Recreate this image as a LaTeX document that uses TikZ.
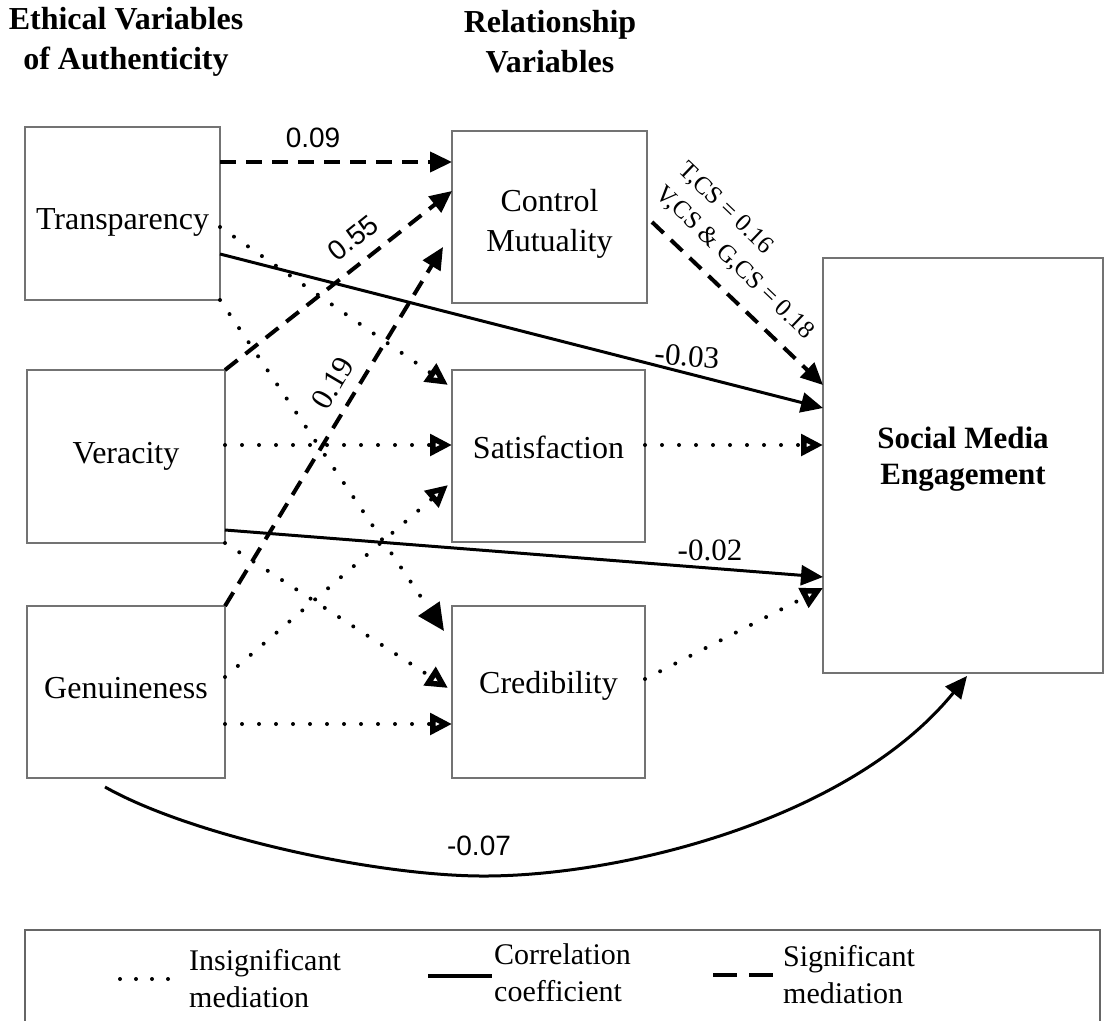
\documentclass[tikz,border=0pt]{standalone}
\usepackage{fontspec}
\setmainfont{Liberation Serif}
\newfontfamily\sansf{Liberation Sans}
\usetikzlibrary{arrows.meta}
\newcommand\boxfont{\fontsize{32}{40}\selectfont}
\newcommand\headfont{\bfseries\fontsize{32}{40}\selectfont}
\newcommand\smefont{\bfseries\fontsize{31}{36}\selectfont}
\newcommand\numsans{\sansf\fontsize{28}{30}\selectfont}
\newcommand\numserif{\fontsize{31}{32}\selectfont}
\newcommand\smallserif{\fontsize{25}{33}\selectfont}
\newcommand\legfont{\fontsize{30}{37}\selectfont}
\newcommand\shifttxt[2]{\raisebox{#1}[\height][\depth]{#2}}
\begin{document}
\begin{tikzpicture}[x=1pt,y=-1pt,
  box/.style={draw=black!55, line width=2.5pt, inner sep=0pt, outer sep=0pt, align=center, font=\boxfont},
  head/.style={align=center, font=\headfont, inner sep=0pt},
  sig/.style={line width=4pt, dash pattern=on 16pt off 10pt, -{Triangle[length=22pt,width=20pt]}},
  ins/.style={line width=4pt, line cap=round, dash pattern=on 0pt off 17pt, -{Triangle[open,length=22pt,width=21pt,line width=6pt]}},
  insbig/.style={ins, -{Triangle[length=27pt,width=25pt]}},
  cor/.style={line width=3pt, -{Triangle[length=22pt,width=20pt]}},
  lbl/.style={inner sep=0pt},
  legtext/.style={align=left, font=\legfont, inner sep=0pt, anchor=west}]
\useasboundingbox (0,0) rectangle (1105,1020);
\fill[white] (0,0) rectangle (1105,1020);

% headers
\node[head] (h1) at (126,42) {Ethical Variables\\of Authenticity};
\node[head] (h2) at (550,42) {Relationship\\Variables};

% boxes
\node[box, minimum width=195pt, minimum height=173pt] (T) at (122.5,213.5) {\shifttxt{-9pt}{Transparency}};
\node[box, minimum width=198pt, minimum height=173pt] (V) at (126,456.5) {Veracity};
\node[box, minimum width=198pt, minimum height=172pt] (G) at (126,692) {Genuineness\\[-32pt]\mbox{}};
\node[box, minimum width=195pt, minimum height=172pt] (CM) at (549.5,217) {\shifttxt{-7pt}{Control}\\\shifttxt{-7pt}{Mutuality}};
\node[box, minimum width=193pt, minimum height=172pt] (Sat) at (548.5,456) {Satisfaction\\[-22pt]\mbox{}};
\node[box, minimum width=193pt, minimum height=172pt] (Cred) at (548.5,692) {Credibility\\[-21pt]\mbox{}};
\node[box, minimum width=280pt, minimum height=415pt, font=\smefont] (SME) at (963,465.5) {Social Media\\Engagement\\[-16pt]\mbox{}};

% significant mediation (dashed)
\draw[sig] ([yshift=-35pt]T.north east) -- ([yshift=-31pt]CM.north west);
\draw[sig] (V.north east) -- ([yshift=-60pt]CM.north west);
\draw[sig] (G.north east) -- ([xshift=-9pt,yshift=-116pt]CM.north west);
\draw[sig] ([xshift=5pt,yshift=-91pt]CM.north east) -- ([yshift=-127pt]SME.north west);

% insignificant mediation (dotted)
\draw[ins] ([yshift=-100pt]T.north east) -- ([xshift=-4pt,yshift=-15pt]Sat.north west);
\draw[insbig] (T.south east) -- ([xshift=-8pt,yshift=-25pt]Cred.north west);
\draw[ins] ([yshift=-75pt]V.north east) -- ([yshift=-75pt]Sat.north west);
\draw[ins] ([yshift=-71pt]G.north east) -- ([xshift=-4pt,yshift=-115pt]Sat.north west);
\draw[ins] (V.south east) -- ([xshift=-4pt,yshift=-82pt]Cred.north west);
\draw[ins] ([yshift=-118pt]G.north east) -- ([yshift=-118pt]Cred.north west);
\draw[ins] ([yshift=-75pt]Sat.north east) -- ([yshift=-187pt]SME.north west);
\draw[ins] ([yshift=-73pt]Cred.north east) -- ([yshift=-330pt]SME.north west);

% correlation coefficients (solid)
\draw[cor] ([yshift=-127pt]T.north east) -- ([yshift=-150pt]SME.north west);
\draw[cor] ([yshift=-160pt]V.north east) -- ([yshift=-319pt]SME.north west);
\draw[cor] ([xshift=-21pt,yshift=-9pt]G.south) .. controls (190,835) and (370,875) .. (480,876)
   .. controls (620,877) and (850,820) .. ([xshift=4pt,yshift=-3pt]SME.south);

% labels
\node[lbl, font=\numsans] (l09) at (313,138) {0.09};
\node[lbl, font=\numsans, rotate=38.8] (l55) at (353,238) {0.55};
\node[lbl, font=\numserif, rotate=59.4] (l19) at (333,383) {0.19};
\node[lbl, font=\smallserif, rotate=-43.8, align=left] (lcs) at (746,251) {T,CS = 0.16\\V,CS \& G,CS = 0.18};
\node[lbl, font=\numserif, rotate=-5] (l03) at (687,356) {-0.03};
\node[lbl, font=\numserif] (l02) at (710,550) {-0.02};
\node[lbl, font=\numsans] (l07) at (479,846) {-0.07};

% legend
\draw[draw=black!60, line width=2.5pt] (25,1022) -- (25,930) -- (1100,930) -- (1100,1022);
\coordinate (d1) at (120,979);
\coordinate (d2) at (170,979);
\draw[line width=4pt, line cap=round, dash pattern=on 0pt off 16pt] (d1) -- (d2);
\coordinate (s1) at (428,976);
\coordinate (s2) at (492,976);
\draw[line width=3.5pt] (s1) -- (s2);
\coordinate (k1) at (713,975);
\coordinate (k2) at (773,975);
\draw[line width=4pt, dash pattern=on 24pt off 12pt] (k1) -- (k2);
\node[legtext] (lg1) at (189,979) {Insignificant\\mediation};
\node[legtext] (lg2) at (494,973) {Correlation\\coefficient};
\node[legtext] (lg3) at (783,975) {Significant\\mediation};
\end{tikzpicture}
\end{document}
